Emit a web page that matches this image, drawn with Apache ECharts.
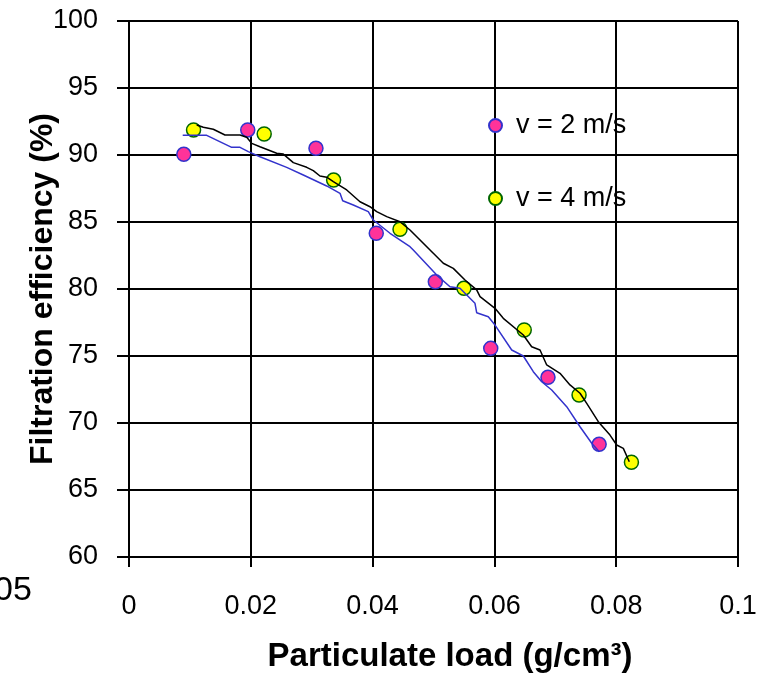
<!DOCTYPE html>
<html>
<head>
<meta charset="utf-8">
<script src="https://cdn.jsdelivr.net/npm/echarts@6/dist/echarts.min.js"></script>
<style>
html,body{margin:0;padding:0;background:#fff;}
#chart{width:771px;height:679px;}
</style>
</head>
<body>
<div id="chart"></div>
<script>
// ---- data ----
var seriesNames = ['v = 2 m/s', 'v = 4 m/s'];
var xTicks = [0, 0.02, 0.04, 0.06, 0.08, 0.1];
var yTicks = [60, 65, 70, 75, 80, 85, 90, 95, 100];

// measured points, v = 2 m/s
var load2 = [0.0090, 0.0195, 0.0307, 0.0406, 0.0503, 0.0594, 0.0688, 0.0772];
var eff2  = [90.05, 91.87, 90.50, 84.16, 80.54, 75.57, 73.41, 68.41];

// measured points, v = 4 m/s
var load4 = [0.0106, 0.0222, 0.0336, 0.0445, 0.0550, 0.0649, 0.0739, 0.0825];
var eff4  = [91.87, 91.57, 88.13, 84.46, 80.05, 76.94, 72.09, 67.07];

// trend curve for v = 2 m/s (blue)
var fit2X = [0.00882,0.01276,0.01686,0.01823,0.01959,0.02151,0.02589,0.02862,0.03246,0.03465,0.03509,0.03683,0.03929,0.04011,0.04286,0.04614,0.04668,0.05053,0.05271,0.05435,0.05681,0.05709,0.05900,0.06010,0.06284,0.06475,0.06639,0.06777,0.06941,0.07187,0.07406,0.07598,0.07722];
var fit2Y = [91.47,91.47,90.57,90.57,90.25,89.87,89.08,88.51,87.69,87.14,86.59,86.27,85.77,85.15,84.16,83.16,82.91,81.04,80.17,80.05,78.93,78.23,77.93,77.31,75.45,75.00,73.83,73.08,72.46,71.22,69.72,68.49,67.86];

// trend curve for v = 4 m/s (black)
var fit4X = [0.01112,0.01220,0.01384,0.01576,0.01823,0.01933,0.02015,0.02151,0.02425,0.02534,0.02698,0.02918,0.03026,0.03136,0.03246,0.03355,0.03575,0.03793,0.03957,0.04067,0.04232,0.04450,0.04614,0.04943,0.05161,0.05325,0.05517,0.05709,0.05764,0.06010,0.06146,0.06475,0.06612,0.06749,0.06859,0.07077,0.07241,0.07406,0.07516,0.07706,0.07898,0.08008,0.08117,0.08215];
var fit4Y = [92.24,92.07,91.92,91.49,91.49,91.32,90.87,90.62,90.13,90.07,89.43,89.08,88.83,88.43,88.34,88.01,87.39,86.51,86.14,85.77,85.40,85.02,84.40,82.91,81.92,81.54,80.67,79.93,79.43,78.56,77.81,76.57,75.69,75.45,74.33,73.71,72.84,72.22,71.47,70.10,69.10,68.36,68.11,67.11];

var xTitle = 'Particulate load (g/cm³)';
var yTitle = 'Filtration efficiency (%)';
var strayText = '05';

function pairs(xs, ys){ return xs.map(function(x,i){ return [x, ys[i]]; }); }

var chart = echarts.init(document.getElementById('chart'), null, {renderer:'canvas'});
var FONT = 'Liberation Sans, Arial, sans-serif';

chart.setOption({
  animation: false,
  backgroundColor: '#ffffff',
  textStyle: {fontFamily: FONT, color: '#000'},
  grid: {left: 129, top: 21, width: 609, height: 536, containLabel: false},
  xAxis: {
    type: 'value',
    min: xTicks[0], max: xTicks[xTicks.length-1], interval: 0.02,
    name: xTitle, nameLocation: 'middle', nameGap: 83,
    nameTextStyle: {fontFamily: FONT, fontWeight: 'bold', fontSize: 33, color: '#000', padding: [0,0,0,33]},
    axisLine: {show: true, onZero: false, lineStyle: {color: '#000', width: 2}},
    axisTick: {show: true, inside: false, length: 10, lineStyle: {color: '#000', width: 2}},
    axisLabel: {fontFamily: FONT, fontSize: 27, color: '#000', margin: 36,
      formatter: function(v){ return String(Math.round(v*100)/100); }},
    splitLine: {show: true, lineStyle: {color: '#000', width: 2}}
  },
  yAxis: {
    type: 'value',
    min: yTicks[0], max: yTicks[yTicks.length-1], interval: 5,
    name: yTitle, nameLocation: 'middle', nameGap: 70, nameRotate: 90,
    nameMoveOverlap: false,
    nameTextStyle: {fontFamily: FONT, fontWeight: 'bold', fontSize: 32, color: '#000'},
    axisLine: {show: true, onZero: false, lineStyle: {color: '#000', width: 2}},
    axisTick: {show: true, inside: false, length: 12, lineStyle: {color: '#000', width: 2}},
    axisLabel: {fontFamily: FONT, fontSize: 27, color: '#000', margin: 31},
    splitLine: {show: true, lineStyle: {color: '#000', width: 2}}
  },
  legend: {
    data: seriesNames,
    orient: 'vertical',
    left: 483, top: 107,
    itemWidth: 15, itemHeight: 13,
    itemGap: 46,
    textStyle: {fontFamily: FONT, fontSize: 27, color: '#000', padding: [0,0,0,8]}
  },
  graphic: [{
    type: 'text', left: -6, top: 574,
    style: {text: strayText, font: '34px ' + FONT, fill: '#000'}
  }],
  series: [
    {
      name: seriesNames[0], type: 'scatter', symbol: 'circle', symbolSize: 14,
      itemStyle: {color: '#FF3399', borderColor: '#3333CC', borderWidth: 1.5, opacity: 1},
      data: pairs(load2, eff2), z: 3
    },
    {
      name: seriesNames[1], type: 'scatter', symbol: 'circle', symbolSize: 14,
      itemStyle: {color: '#FFFF00', borderColor: '#006600', borderWidth: 1.5, opacity: 1},
      data: pairs(load4, eff4), z: 3
    },
    {
      name: 'fit2', type: 'line', showSymbol: false, symbol: 'none', smooth: false,
      lineStyle: {color: '#3333CC', width: 1.5},
      data: pairs(fit2X, fit2Y), z: 4
    },
    {
      name: 'fit4', type: 'line', showSymbol: false, symbol: 'none', smooth: false,
      lineStyle: {color: '#000000', width: 1.5},
      data: pairs(fit4X, fit4Y), z: 4
    }
  ]
});
</script>
</body>
</html>
